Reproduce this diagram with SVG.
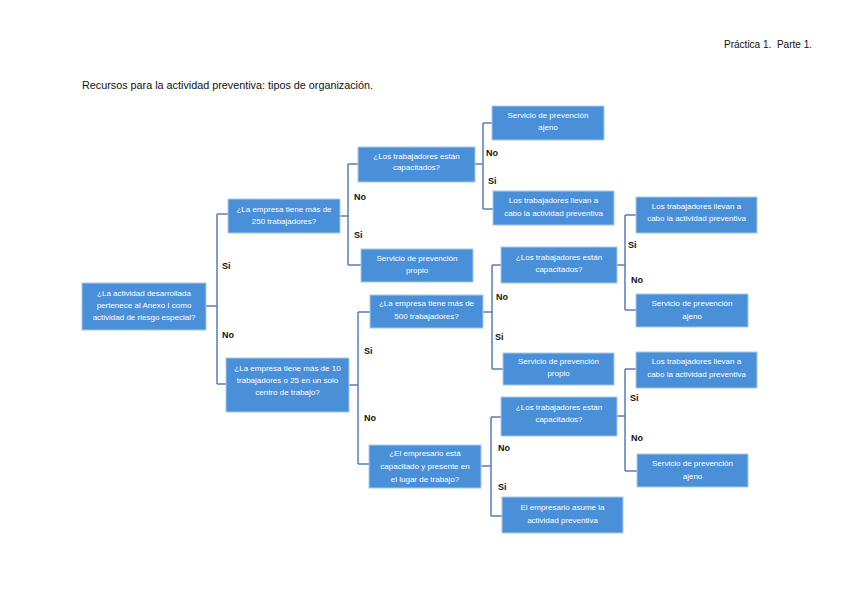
<svg xmlns="http://www.w3.org/2000/svg" width="848" height="599" viewBox="0 0 848 599">
<style>
.box{fill:#4a90d9;stroke:#a9c9ec;stroke-width:1}
.bt{font-family:"Liberation Sans",Arial,sans-serif;font-size:8px;fill:#ffffff;text-anchor:middle}
.lb{font-family:"Liberation Sans",Arial,sans-serif;font-size:9px;font-weight:bold;fill:#111111}
.con{fill:none;stroke:#5b7cbf;stroke-width:1.5}
.hd{font-family:"Liberation Sans",Arial,sans-serif;font-size:11px;fill:#111111}
</style>
<rect width="848" height="599" fill="#ffffff"/>
<text class="hd" x="724" y="48" xml:space="preserve" textLength="88" lengthAdjust="spacingAndGlyphs">Práctica 1.  Parte 1.</text>
<text class="hd" x="82" y="89" textLength="291" lengthAdjust="spacingAndGlyphs">Recursos para la actividad preventiva: tipos de organización.</text>
<g id="connectors">
<path class="con" d="M206,306 H217 M217,214 V384 M217,214 H228 M217,384 H226"/>
<path class="con" d="M340,216 H348 M348,164 V265 M348,164 H358 M348,265 H361"/>
<path class="con" d="M475,164 H483 M483,123 V209 M483,123 H492 M483,209 H493"/>
<path class="con" d="M349,385 H358 M358,312 V464 M358,312 H370 M358,464 H369"/>
<path class="con" d="M483,312 H492 M492,265 V369 M492,265 H501 M492,369 H503"/>
<path class="con" d="M617,265 H625 M625,215 V310 M625,215 H636 M625,310 H636"/>
<path class="con" d="M481,466 H491 M491,417 V516 M491,417 H501 M491,516 H502"/>
<path class="con" d="M617,416 H625 M625,369 V471 M625,369 H636 M625,471 H637"/>
</g>
<g id="labels">
<text class="lb" x="222" y="269">Si</text>
<text class="lb" x="222" y="338">No</text>
<text class="lb" x="354" y="200">No</text>
<text class="lb" x="354" y="238">Si</text>
<text class="lb" x="486" y="156">No</text>
<text class="lb" x="488" y="184">Si</text>
<text class="lb" x="364" y="354">Si</text>
<text class="lb" x="364" y="421">No</text>
<text class="lb" x="496" y="300">No</text>
<text class="lb" x="495" y="340">Si</text>
<text class="lb" x="628" y="248">Si</text>
<text class="lb" x="631" y="283">No</text>
<text class="lb" x="498" y="451">No</text>
<text class="lb" x="498" y="490">Si</text>
<text class="lb" x="630" y="401">Si</text>
<text class="lb" x="631" y="441">No</text>
</g>
<g id="n1"><rect class="box" x="82" y="283" width="124" height="47"/>
<text class="bt" x="144" y="296">¿La actividad desarrollada</text>
<text class="bt" x="144" y="308">pertenece al Anexo I como</text>
<text class="bt" x="144" y="320">actividad de riesgo especial?</text></g>
<g id="n2"><rect class="box" x="228" y="199" width="112" height="34"/>
<text class="bt" x="284" y="212">¿La empresa tiene más de</text>
<text class="bt" x="284" y="224">250 trabajadores?</text></g>
<g id="n3"><rect class="box" x="226" y="358" width="123" height="54"/>
<text class="bt" x="287.5" y="371">¿La empresa tiene más de 10</text>
<text class="bt" x="287.5" y="383">trabajadores o 25 en un solo</text>
<text class="bt" x="287.5" y="395">centro de trabajo?</text></g>
<g id="n4"><rect class="box" x="358" y="147" width="117" height="35"/>
<text class="bt" x="416.5" y="159">¿Los trabajadores están</text>
<text class="bt" x="416.5" y="170">capacitados?</text></g>
<g id="n5"><rect class="box" x="492" y="106" width="112" height="34"/>
<text class="bt" x="548" y="118">Servicio de prevención</text>
<text class="bt" x="548" y="130">ajeno</text></g>
<g id="n6"><rect class="box" x="493" y="191" width="121" height="34"/>
<text class="bt" x="553.5" y="203">Los trabajadores llevan a</text>
<text class="bt" x="553.5" y="216">cabo la actividad preventiva</text></g>
<g id="n7"><rect class="box" x="361" y="249" width="112" height="33"/>
<text class="bt" x="417" y="261">Servicio de prevención</text>
<text class="bt" x="417" y="273">propio</text></g>
<g id="n8"><rect class="box" x="370" y="295" width="113" height="33"/>
<text class="bt" x="426.5" y="306">¿La empresa tiene más de</text>
<text class="bt" x="426.5" y="319">500 trabajadores?</text></g>
<g id="n9"><rect class="box" x="369" y="445" width="112" height="43"/>
<text class="bt" x="425" y="456">¿El empresario está</text>
<text class="bt" x="425" y="469">capacitado y presente en</text>
<text class="bt" x="425" y="482">el lugar de trabajo?</text></g>
<g id="n10"><rect class="box" x="501" y="247" width="116" height="36"/>
<text class="bt" x="559" y="260">¿Los trabajadores están</text>
<text class="bt" x="559" y="272">capacitados?</text></g>
<g id="n11"><rect class="box" x="503" y="353" width="111" height="32"/>
<text class="bt" x="558.5" y="364">Servicio de prevención</text>
<text class="bt" x="558.5" y="376">propio</text></g>
<g id="n12"><rect class="box" x="636" y="197" width="121" height="36"/>
<text class="bt" x="696.5" y="209">Los trabajadores llevan a</text>
<text class="bt" x="696.5" y="221">cabo la actividad preventiva</text></g>
<g id="n13"><rect class="box" x="636" y="294" width="112" height="33"/>
<text class="bt" x="692" y="306">Servicio de prevención</text>
<text class="bt" x="692" y="319">ajeno</text></g>
<g id="n14"><rect class="box" x="501" y="397" width="116" height="39"/>
<text class="bt" x="559" y="410">¿Los trabajadores están</text>
<text class="bt" x="559" y="422">capacitados?</text></g>
<g id="n15"><rect class="box" x="502" y="497" width="121" height="36"/>
<text class="bt" x="562.5" y="510">El empresario asume la</text>
<text class="bt" x="562.5" y="523">actividad preventiva</text></g>
<g id="n16"><rect class="box" x="636" y="352" width="121" height="36"/>
<text class="bt" x="696.5" y="364">Los trabajadores llevan a</text>
<text class="bt" x="696.5" y="377">cabo la actividad preventiva</text></g>
<g id="n17"><rect class="box" x="637" y="454" width="111" height="33"/>
<text class="bt" x="692.5" y="466">Servicio de prevención</text>
<text class="bt" x="692.5" y="479">ajeno</text></g>
</svg>
